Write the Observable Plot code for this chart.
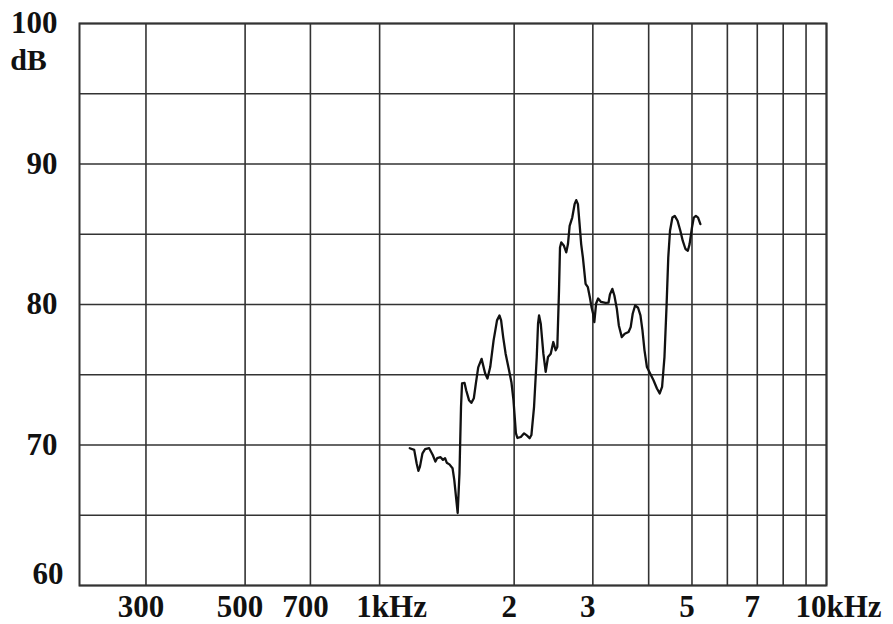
<!DOCTYPE html>
<html>
<head>
<meta charset="utf-8">
<script src="https://cdn.jsdelivr.net/npm/d3@7"></script>
<script src="https://cdn.jsdelivr.net/npm/@observablehq/plot@0.6"></script>
<style>
  html, body { margin: 0; padding: 0; background: #ffffff; }
  #chart svg { display: block; }
</style>
</head>
<body>
<div id="chart"></div>
<script>
// Frequency response trace (Hz, dB)
const freqHz = [1168,1195,1210,1221,1231,1247,1264,1291,1315,1333,1345,1369,1386,1401,1413,1433,1456,1469,1482,1495,
  1509,1521,1529,1549,1562,1585,1604,1625,1642,1662,1691,1722,1743,1768,1799,1831,1854,1870,1890,1914,
  1948,1972,1993,2018,2034,2070,2105,2138,2166,2186,2216,2247,2262,2274,2294,2325,2353,2381,2415,2447,
  2477,2498,2520,2533,2550,2585,2616,2639,2662,2698,2731,2754,2778,2802,2825,2850,2890,2924,2954,2980,
  3004,3023,3051,3083,3130,3202,3253,3276,3317,3352,3394,3430,3483,3536,3606,3646,3684,3730,3787,3834,
  3874,3915,3964,4015,4101,4174,4234,4286,4339,4385,4425,4465,4520,4575,4642,4709,4767,4835,4895,4939,
  5000,5047,5102,5159,5222];
const levelDb = [69.77,69.65,68.70,68.16,68.46,69.41,69.70,69.77,69.29,68.82,69.06,69.13,68.94,69.06,68.74,68.62,68.35,67.52,66.33,65.16,
  67.99,72.72,74.38,74.42,73.90,73.19,73.00,73.33,74.38,75.53,76.13,75.11,74.73,75.55,77.45,78.87,79.22,78.87,77.68,76.50,
  75.32,74.47,73.19,70.85,70.50,70.57,70.83,70.67,70.48,70.71,72.72,76.26,78.63,79.22,78.63,76.50,75.20,76.26,76.50,77.33,
  76.74,76.97,80.99,84.06,84.42,84.18,83.71,84.30,85.60,86.19,87.14,87.43,87.14,85.72,84.30,83.35,81.47,81.23,80.52,79.81,
  79.34,78.74,80.07,80.43,80.18,80.11,80.14,80.71,81.11,80.64,79.72,78.51,77.68,77.92,78.04,78.39,79.34,79.93,79.77,79.22,
  78.16,76.74,75.55,75.20,74.61,74.02,73.67,74.13,76.26,79.81,83.35,85.25,86.19,86.31,85.96,85.25,84.54,83.95,83.83,84.30,
  85.48,86.19,86.31,86.19,85.72];

// Axes and grid
const xDomain = [213, 10000];
const yDomain = [60, 100];
const gridFreqs = [300, 500, 700, 1000, 2000, 3000, 4000, 5000, 6000, 7000, 8000, 9000, 10000];
const gridDb = [60, 65, 70, 75, 80, 85, 90, 95, 100];
const xNumTicks = [300, 500, 700, 2000, 3000, 5000, 7000];
const xNumLabels = ["300", "500", "700", "2", "3", "5", "7"];
const xKhzTicks = [1000, 10000];
const xKhzLabels = ["1kHz", "10kHz"];
const yTicks = [70, 80, 90, 100];
const yBottomTick = [60];
const yUnit = ["dB"];

const trace = freqHz.map((f, i) => ({f, db: levelDb[i]}));
const labelOf = (ticks, labels) => (v) => labels[ticks.indexOf(v)];

const gridColor = "#333333";
const ink = "#111111";

const chart = Plot.plot({
  width: 893,
  height: 624,
  marginLeft: 79,
  marginRight: 67,
  marginTop: 23,
  marginBottom: 39,
  x: {type: "log", domain: xDomain, label: null, axis: null},
  y: {domain: yDomain, label: null},
  style: {
    background: "#ffffff",
    color: ink,
    fontFamily: "'Liberation Serif', 'DejaVu Serif', serif",
    fontWeight: "bold",
    fontSize: "31px"
  },
  marks: [
    Plot.ruleX(gridFreqs, {stroke: gridColor, strokeWidth: 1.6}),
    Plot.ruleY(gridDb, {stroke: gridColor, strokeWidth: 1.6}),
    Plot.frame({stroke: gridColor, strokeWidth: 2}),
    Plot.line(trace, {x: "f", y: "db", stroke: ink, strokeWidth: 2.3, strokeLinejoin: "round"}),
    Plot.text(xNumTicks, {x: d => d, text: labelOf(xNumTicks, xNumLabels), frameAnchor: "bottom", lineAnchor: "top", dy: 9, dx: -5, fontSize: 31, fontWeight: "bold", fill: ink}),
    Plot.text(xKhzTicks, {x: d => d, text: labelOf(xKhzTicks, xKhzLabels), frameAnchor: "bottom", lineAnchor: "top", dy: 9, dx: 12, fontSize: 31, fontWeight: "bold", fill: ink}),
    Plot.axisY(yTicks, {label: null, tickSize: 0, tickPadding: 22, tickFormat: d => String(d), fontSize: 31, fontWeight: "bold", fill: ink}),
    Plot.axisY(yBottomTick, {label: null, tickSize: 0, tickPadding: 16, dy: -11, tickFormat: d => String(d), fontSize: 31, fontWeight: "bold", fill: ink}),
    Plot.text(yUnit, {frameAnchor: "top-left", textAnchor: "middle", lineAnchor: "middle", text: d => d, dx: -51, dy: 37, fontSize: 30, fontWeight: "bold", fill: ink})
  ]
});

document.getElementById("chart").appendChild(chart);
</script>
</body>
</html>
